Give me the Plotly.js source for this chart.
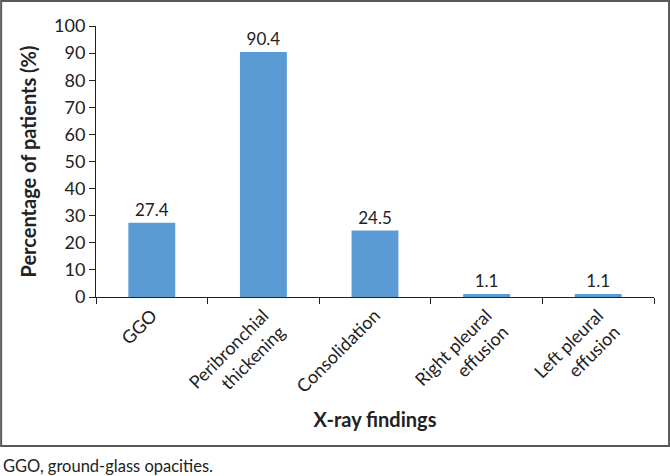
<!DOCTYPE html>
<html>
<head>
<meta charset="utf-8">
<script src="https://cdn.plot.ly/plotly-3.0.1.min.js"></script>
<style>html,body{margin:0;padding:0;background:#fff;}#chart{width:670px;height:476px;}</style>
</head>
<body>
<div id="chart"></div>
<script>
var categories = ["GGO", "Peribronchial<br>thickening", "Consolidation", "Right pleural<br>effusion", "Left pleural<br>effusion"];
var values = [27.4, 90.4, 24.5, 1.1, 1.1];
var valueLabels = ["27.4", "90.4", "24.5", "1.1", "1.1"];
var yTicks = [0, 10, 20, 30, 40, 50, 60, 70, 80, 90, 100];

var FONT = "Lato, 'Open Sans', sans-serif";

var trace = {
  type: "bar",
  x: categories,
  y: values,
  text: valueLabels,
  textposition: "outside",
  cliponaxis: false,
  textfont: {family: FONT, size: 17, color: "#222"},
  marker: {color: "#5b9bd5"},
  hoverinfo: "x+y"
};

var layout = {
  width: 670,
  height: 476,
  margin: {l: 96, r: 16, t: 26, b: 179},
  paper_bgcolor: "#fff",
  plot_bgcolor: "#fff",
  bargap: 0.58,
  showlegend: false,
  font: {family: FONT, color: "#222"},
  xaxis: {
    type: "category",
    tickangle: -45,
    tickson: "boundaries",
    ticks: "outside",
    ticklen: 6,
    tickcolor: "#222",
    showline: true,
    linecolor: "#222",
    linewidth: 1,
    showgrid: false,
    automargin: false,
    tickfont: {family: FONT, size: 18, color: "#222"},
    title: {text: "<b>X-ray findings</b>", font: {family: FONT, size: 20, color: "#222"}, standoff: 1}
  },
  yaxis: {
    range: [0, 100],
    tickvals: yTicks,
    ticks: "outside",
    ticklen: 6,
    tickcolor: "#222",
    showline: true,
    linecolor: "#222",
    linewidth: 1,
    showgrid: false,
    zeroline: false,
    automargin: false,
    tickfont: {family: FONT, size: 18, color: "#222"},
    title: {text: "<b>Percentage of patients (%)</b>", font: {family: FONT, size: 20, color: "#222"}, standoff: 12}
  },
  shapes: [{
    type: "rect", xref: "paper", yref: "paper",
    x0: -0.170, x1: 1.027, y0: -0.55, y1: 1.092,
    line: {color: "#595959", width: 2}
  }],
  annotations: [{
    xref: "paper", yref: "paper",
    x: -0.170, y: -0.625, xanchor: "left", yanchor: "middle",
    showarrow: false,
    text: "GGO, ground-glass opacities.",
    font: {family: FONT, size: 16.5, color: "#222"}
  }]
};

Plotly.newPlot("chart", [trace], layout, {displayModeBar: false, staticPlot: true});
</script>
</body>
</html>
